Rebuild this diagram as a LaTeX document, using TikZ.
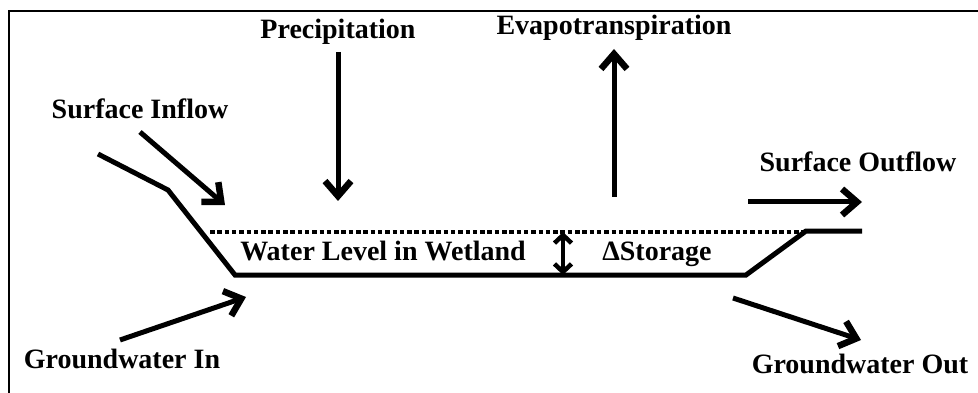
\documentclass[tikz,border=0pt]{standalone}
\usepackage{fontspec}
\setmainfont{Liberation Serif}
\usetikzlibrary{arrows.meta}

\begin{document}
\begin{tikzpicture}[x=1pt, y=-1pt,
  lbl/.style={font=\bfseries\fontsize{28}{30}\selectfont, anchor=base, inner sep=0pt},
  flow/.style={line width=5pt, -{Straight Barb[length=15pt, width=26pt, line width=6.5pt]}},
  bank/.style={line width=5pt},
  waterline/.style={line width=4pt, dash pattern=on 4.5pt off 2.8pt},
  dstore/.style={line width=3.5pt, {Straight Barb[length=8pt, width=17pt, line width=4.5pt]}-{Straight Barb[length=8pt, width=17pt, line width=4.5pt]}}
]
  \useasboundingbox (0,0) rectangle (978,393);
  \draw[line width=2.5pt] (9,393) -- (9,11) -- (978,11);

  \node[lbl] (precip) at (338,39) {Precipitation};
  \node[lbl] (evap) at (614,35) {Evapotranspiration};
  \node[lbl] (sin) at (140,119) {Surface Inflow};
  \node[lbl] (sout) at (858,172) {Surface Outflow};
  \node[lbl] (level) at (383,260) {Water Level in Wetland};
  \node[lbl] (storage) at (657,260) {ΔStorage};
  \node[lbl] (gwin) at (122,368) {Groundwater In};
  \node[lbl] (gwout) at (860,373) {Groundwater Out};

  \coordinate (b1) at (98,154);
  \coordinate (b2) at (168,190);
  \coordinate (b3) at (235,275);
  \coordinate (b4) at (746,275);
  \coordinate (b5) at (806,231);
  \coordinate (b6) at (862,231);
  \draw[bank] (b1) -- (b2) -- (b3) -- (b4) -- (b5) -- (b6);

  \coordinate (w1) at (210,232);
  \coordinate (w2) at (803,232);
  \draw[waterline] (w1) -- (w2);
  \coordinate (ds1) at (563,232);
  \coordinate (ds2) at (563,275);
  \draw[dstore] (ds1) -- (ds2);

  \coordinate (sin1) at (140,132);
  \coordinate (sin2) at (225,205);
  \coordinate (pr1) at (338,52);
  \coordinate (pr2) at (338,201);
  \coordinate (ev1) at (614,197);
  \coordinate (ev2) at (614,49);
  \coordinate (so1) at (748,202);
  \coordinate (so2) at (862,202);
  \coordinate (gi1) at (120,340);
  \coordinate (gi2) at (246,297);
  \coordinate (go1) at (733,298);
  \coordinate (go2) at (861,340);
  \draw[flow] (sin1) -- (sin2);
  \draw[flow] (pr1) -- (pr2);
  \draw[flow] (ev1) -- (ev2);
  \draw[flow] (so1) -- (so2);
  \draw[flow] (gi1) -- (gi2);
  \draw[flow] (go1) -- (go2);
\end{tikzpicture}
\end{document}
